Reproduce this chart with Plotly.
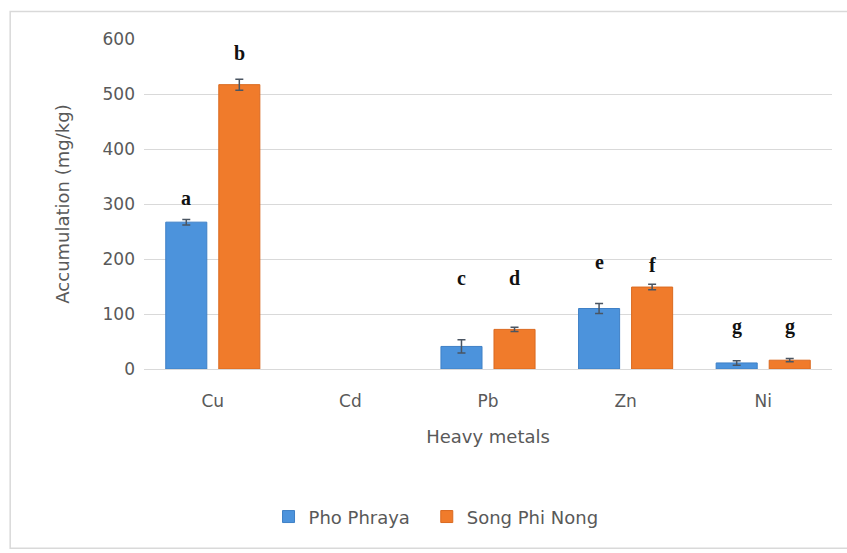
import plotly.graph_objects as go

# Heavy metal accumulation (mg/kg) at two sites
metals = ["Cu", "Cd", "Pb", "Zn", "Ni"]
pho_phraya = [267, None, 41, 110, 11]
pho_phraya_err = [5, None, 12, 9, 4]
song_phi_nong = [517, None, 72, 149, 16]
song_phi_nong_err = [10, None, 4, 5, 3]

# Significance letters shown above each bar
letters_pho = ["a", None, "c", "e", "g"]
letters_song = ["b", None, "d", "f", "g"]
letter_y_pho = [311, None, 166, 195, 78]
letter_y_song = [575, None, 166, 190, 78]

y_ticks = [0, 100, 200, 300, 400, 500, 600]

BLUE = "#4C93DC"
ORANGE = "#F07B2B"
TEXT = "#595959"
GRID = "#D9D9D9"
FONT = "DejaVu Sans"

fig = go.Figure()
fig.add_trace(go.Bar(
    name="Pho Phraya", x=metals, y=pho_phraya, legend="legend",
    marker=dict(color=BLUE, line=dict(color="#3F80C6", width=1)),
    error_y=dict(type="data", array=pho_phraya_err, color="#4A5562",
                 thickness=1.5, width=4),
))
fig.add_trace(go.Bar(
    name="Song Phi Nong", x=metals, y=song_phi_nong, legend="legend2",
    marker=dict(color=ORANGE, line=dict(color="#DA6A20", width=1)),
    error_y=dict(type="data", array=song_phi_nong_err, color="#4A5562",
                 thickness=1.5, width=4),
))

annotations = []
for metal, lp, yp, ls, ys in zip(metals, letters_pho, letter_y_pho,
                                 letters_song, letter_y_song):
    for lab, yy, shift in ((lp, yp, -26.5), (ls, ys, 26.5)):
        if lab is None:
            continue
        annotations.append(dict(
            x=metal, y=yy, text=f"<b>{lab}</b>", showarrow=False,
            xshift=shift, yanchor="middle",
            font=dict(family="Liberation Serif", size=20, color="#111111"),
        ))

legend_style = dict(orientation="h", xanchor="left", y=-0.448, yanchor="middle",
                    font=dict(family=FONT, size=18, color=TEXT), itemwidth=30)

fig.update_layout(
    width=847, height=553,
    margin=dict(l=144, r=15, t=39, b=184),
    paper_bgcolor="white", plot_bgcolor="white",
    barmode="group", bargap=0.229, bargroupgap=0.226,
    font=dict(family=FONT, size=17, color=TEXT),
    showlegend=True,
    legend=dict(x=0.181, **legend_style),
    legend2=dict(x=0.411, **legend_style),
    annotations=annotations,
    xaxis=dict(
        title=dict(text="Heavy metals", font=dict(family=FONT, size=18, color=TEXT),
                   standoff=20),
        showgrid=False, showline=False, ticks="",
        tickfont=dict(family=FONT, size=17, color=TEXT), ticklabelstandoff=20,
    ),
    yaxis=dict(
        title=dict(text="Accumulation (mg/kg)", font=dict(family=FONT, size=18, color=TEXT),
                   standoff=28),
        range=[0, 600], tickvals=y_ticks, showgrid=True, gridcolor=GRID,
        gridwidth=1, zeroline=True, zerolinecolor=GRID, zerolinewidth=1,
        showline=False, ticks="", ticklabelstandoff=8,
        tickfont=dict(family=FONT, size=17, color=TEXT),
    ),
    shapes=[dict(type="rect", xref="paper", yref="paper",
                 x0=-0.1945, x1=1.05, y0=-0.543, y1=1.083,
                 line=dict(color="#D9D9D9", width=1.5), layer="below")],
)

fig.write_html("out.html")
